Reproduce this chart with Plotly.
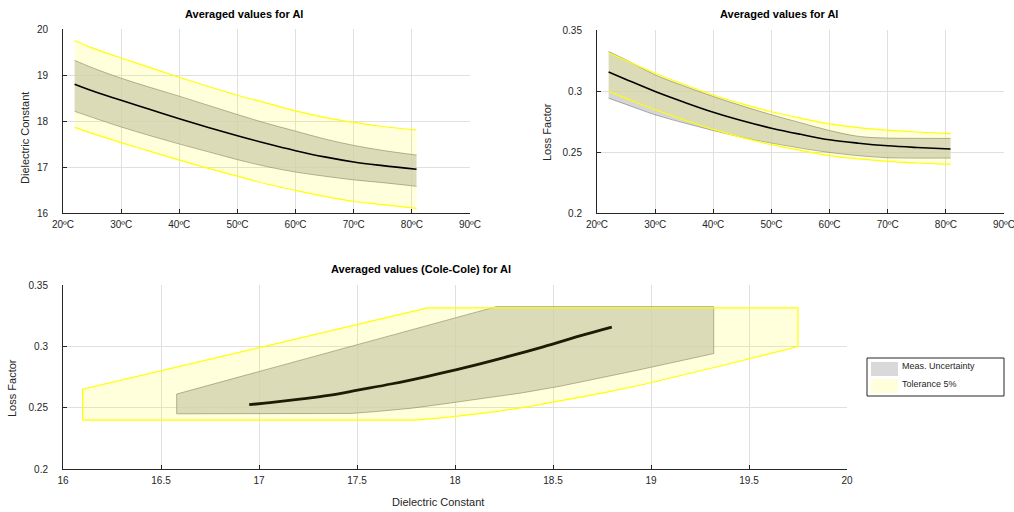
import plotly.graph_objects as go

# ---------------- data ----------------
temps = [22, 25, 30, 35, 40, 45, 50, 55, 60, 65, 70, 75, 80.8]

diel_mean = [18.80, 18.66, 18.45, 18.25, 18.05, 17.86, 17.68, 17.51, 17.355, 17.22, 17.11, 17.03, 16.95]
diel_unc_hi = [19.32, 19.16, 18.93, 18.73, 18.54, 18.34, 18.14, 17.95, 17.78, 17.61, 17.47, 17.36, 17.26]
diel_unc_lo = [18.21, 18.08, 17.87, 17.68, 17.50, 17.33, 17.16, 17.01, 16.89, 16.80, 16.72, 16.66, 16.58]
diel_tol_hi = [19.75, 19.59, 19.37, 19.16, 18.95, 18.75, 18.56, 18.39, 18.22, 18.08, 17.97, 17.88, 17.80]
diel_tol_lo = [17.86, 17.73, 17.53, 17.34, 17.15, 16.97, 16.80, 16.63, 16.49, 16.36, 16.25, 16.18, 16.10]

loss_mean = [0.3156, 0.3095, 0.2996, 0.2908, 0.2826, 0.2756, 0.2695, 0.2645, 0.2600, 0.2572, 0.2551, 0.2537, 0.2524]
loss_unc_hi = [0.3323, 0.3255, 0.3132, 0.3040, 0.2955, 0.2877, 0.2805, 0.2740, 0.2676, 0.2628, 0.2614, 0.2612, 0.2611]
loss_unc_lo = [0.2941, 0.2890, 0.2805, 0.2738, 0.2676, 0.2620, 0.2573, 0.2532, 0.2496, 0.2470, 0.2453, 0.2450, 0.2450]
loss_tol_hi = [0.3314, 0.3250, 0.3146, 0.3053, 0.2967, 0.2894, 0.2830, 0.2777, 0.2730, 0.2700, 0.2679, 0.2664, 0.2650]
loss_tol_lo = [0.2998, 0.2940, 0.2846, 0.2763, 0.2685, 0.2618, 0.2560, 0.2513, 0.2470, 0.2443, 0.2423, 0.2410, 0.2398]

temp_ticks = [20, 30, 40, 50, 60, 70, 80, 90]
temp_labels = [f"{t}ºC" for t in temp_ticks]

title_temp = "Averaged values for Al"
title_cole = "Averaged values (Cole-Cole) for Al"
legend_labels = ["Meas. Uncertainty", "Tolerance 5%"]

# ---------------- styling ----------------
W, H = 1014, 512
FONT = "Liberation Sans, Arial, sans-serif"
GRAY_FILL = "rgba(200,200,200,0.75)"
GRAY_LINE = "rgba(90,90,90,0.55)"
YEL_FILL = "rgba(255,255,0,0.14)"
YEL_LINE = "#ffff00"
AXC = "#262626"
GRID = "#e0e0e0"


def px(x):
    return x / W


def py(y):
    return 1 - y / H


def hull(points):
    pts = sorted(set(points))

    def cross(o, a, b):
        return (a[0] - o[0]) * (b[1] - o[1]) - (a[1] - o[1]) * (b[0] - o[0])

    lower = []
    for p in pts:
        while len(lower) >= 2 and cross(lower[-2], lower[-1], p) <= 0:
            lower.pop()
        lower.append(p)
    upper = []
    for p in reversed(pts):
        while len(upper) >= 2 and cross(upper[-2], upper[-1], p) <= 0:
            upper.pop()
        upper.append(p)
    h = lower[:-1] + upper[:-1]
    h.append(h[0])
    return [p[0] for p in h], [p[1] for p in h]


def band(x, hi, lo):
    return list(x) + list(x)[::-1] + [x[0]], list(hi) + list(lo)[::-1] + [hi[0]]


fig = go.Figure()


def add_band(x, hi, lo, fc, lc, lw, xa, ya):
    bx, by = band(x, hi, lo)
    fig.add_trace(go.Scatter(x=bx, y=by, mode="lines", fill="toself", fillcolor=fc,
                             line=dict(width=0), showlegend=False, hoverinfo="skip",
                             xaxis=xa, yaxis=ya))
    for edge in (hi, lo):
        fig.add_trace(go.Scatter(x=x, y=edge, mode="lines", line=dict(color=lc, width=lw, shape="spline"),
                                 showlegend=False, hoverinfo="skip", xaxis=xa, yaxis=ya))


# --- top-left: dielectric constant vs temperature
add_band(temps, diel_unc_hi, diel_unc_lo, GRAY_FILL, GRAY_LINE, 0.9, "x", "y")
add_band(temps, diel_tol_hi, diel_tol_lo, YEL_FILL, YEL_LINE, 1.2, "x", "y")
fig.add_trace(go.Scatter(x=temps, y=diel_mean, mode="lines",
                         line=dict(color="black", width=1.6, shape="spline"),
                         showlegend=False, xaxis="x", yaxis="y"))

# --- top-right: loss factor vs temperature
add_band(temps, loss_unc_hi, loss_unc_lo, GRAY_FILL, GRAY_LINE, 0.9, "x2", "y2")
add_band(temps, loss_tol_hi, loss_tol_lo, YEL_FILL, YEL_LINE, 1.2, "x2", "y2")
fig.add_trace(go.Scatter(x=temps, y=loss_mean, mode="lines",
                         line=dict(color="black", width=1.6, shape="spline"),
                         showlegend=False, xaxis="x2", yaxis="y2"))

# --- bottom: Cole-Cole
for (dhi, dlo, lhi, llo, fc, lc, lw, name) in [
        (diel_unc_hi, diel_unc_lo, loss_unc_hi, loss_unc_lo, GRAY_FILL, GRAY_LINE, 0.9, legend_labels[0]),
        (diel_tol_hi, diel_tol_lo, loss_tol_hi, loss_tol_lo, YEL_FILL, YEL_LINE, 1.2, legend_labels[1])]:
    pts = []
    for a, b, c, d in zip(dlo, dhi, llo, lhi):
        pts += [(a, c), (a, d), (b, c), (b, d)]
    hx, hy = hull(pts)
    fig.add_trace(go.Scatter(x=hx, y=hy, mode="lines", fill="toself", fillcolor=fc,
                             line=dict(color=lc, width=lw), name=name, showlegend=False,
                             hoverinfo="skip", xaxis="x3", yaxis="y3"))
fig.add_trace(go.Scatter(x=diel_mean, y=loss_mean, mode="lines",
                         line=dict(color="#1c1c05", width=2.8, shape="spline"),
                         showlegend=False, xaxis="x3", yaxis="y3"))

axis_common = dict(showline=True, linecolor=AXC, linewidth=1, mirror=False, ticks="inside",
                   ticklen=4, tickcolor=AXC, showgrid=True, gridcolor=GRID, gridwidth=1,
                   zeroline=False, automargin=False, ticklabeloverflow="allow",
                   tickfont=dict(family=FONT, size=10, color=AXC))

fig.update_layout(
    width=W, height=H, margin=dict(l=0, r=0, t=0, b=0, autoexpand=False),
    paper_bgcolor="white", plot_bgcolor="white", showlegend=False,
    font=dict(family=FONT, color=AXC),
    xaxis=dict(domain=[px(63), px(470)], range=[20, 90], tickvals=temp_ticks, ticktext=temp_labels,
               anchor="y", ticklabelstandoff=2, **axis_common),
    yaxis=dict(domain=[py(213), py(29)], range=[16, 20], dtick=1, anchor="x",
               ticklabelstandoff=12, **axis_common),
    xaxis2=dict(domain=[px(597), px(1004)], range=[20, 90], tickvals=temp_ticks, ticktext=temp_labels,
                anchor="y2", ticklabelstandoff=2, **axis_common),
    yaxis2=dict(domain=[py(213), py(30)], range=[0.2, 0.35], dtick=0.05, anchor="x2",
                ticklabelstandoff=12, **axis_common),
    xaxis3=dict(domain=[px(63), px(847)], range=[16, 20], dtick=0.5, anchor="y3",
                ticklabelstandoff=2, **axis_common),
    yaxis3=dict(domain=[py(469), py(285)], range=[0.2, 0.35], dtick=0.05, anchor="x3",
                ticklabelstandoff=12, **axis_common),
)

ann = []


def text(x, y, s, size=11, bold=False, angle=0, xanchor="center"):
    ann.append(dict(x=px(x), y=py(y), xref="paper", yref="paper", text=f"<b>{s}</b>" if bold else s,
                    showarrow=False, textangle=angle, xanchor=xanchor, yanchor="middle",
                    font=dict(family=FONT, size=size, color="black" if bold else AXC)))


text(244, 14, title_temp, size=11, bold=True)
text(779, 14, title_temp, size=11, bold=True)
text(421, 269, title_cole, size=11, bold=True)
text(25, 138, "Dielectric Constant", angle=-90)
text(547, 132, "Loss Factor", angle=-90)
text(12, 388, "Loss Factor", angle=-90)
text(438, 502, "Dielectric Constant")

# manual legend box
shapes = [
    dict(type="rect", xref="paper", yref="paper", x0=px(867), x1=px(1004), y0=py(396), y1=py(358),
         line=dict(color=AXC, width=1), fillcolor="white"),
    dict(type="rect", xref="paper", yref="paper", x0=px(871), x1=px(898), y0=py(376), y1=py(362),
         line=dict(width=0), fillcolor="#d9d9d9"),
    dict(type="rect", xref="paper", yref="paper", x0=px(871), x1=px(898), y0=py(393), y1=py(379),
         line=dict(width=0), fillcolor="#ffffdc"),
]
text(900, 366, legend_labels[0], size=9, xanchor="left")
text(900, 384, legend_labels[1], size=9, xanchor="left")

fig.update_layout(annotations=ann, shapes=shapes)
fig.write_html("out.html", config={"displayModeBar": False},
               post_script="document.body.style.margin='0px';document.body.style.overflow='hidden';")
